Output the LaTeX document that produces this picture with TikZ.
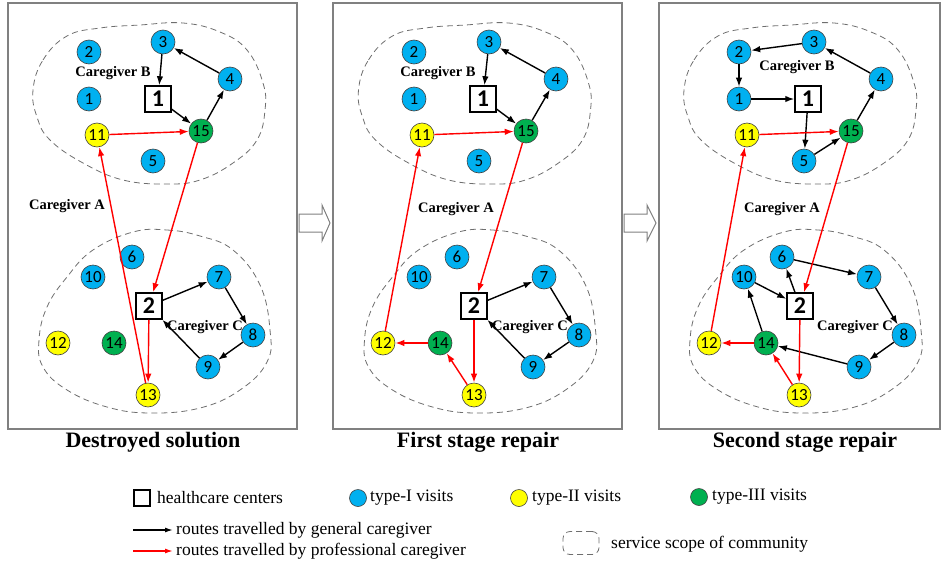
\documentclass[tikz,border=0pt]{standalone}
\usepackage{fontspec}
\setmainfont{Liberation Serif}
\newfontfamily\numfont{Carlito}
\usetikzlibrary{arrows.meta}

\definecolor{visitblue}{RGB}{0,176,240}
\definecolor{visityellow}{RGB}{255,255,0}
\definecolor{visitgreen}{RGB}{0,176,80}
\definecolor{framegray}{RGB}{128,128,128}
\definecolor{routered}{RGB}{255,0,0}
\definecolor{scopegray}{RGB}{110,110,110}

\tikzset{
  visit/.style={circle, draw=black!75, line width=0.6pt, minimum size=24pt, inner sep=0pt,
                font=\numfont\fontsize{17}{17}\selectfont},
  typeI/.style={visit, fill=visitblue},
  typeII/.style={visit, fill=visityellow},
  typeIII/.style={visit, fill=visitgreen},
  hcenter/.style={draw=black, line width=1.5pt, fill=white, minimum size=26pt, inner sep=0pt,
                  font=\numfont\bfseries\fontsize{24}{24}\selectfont},
  general/.style={-{Latex[length=9pt,width=6.5pt]}, line width=1.4pt, black},
  professional/.style={-{Latex[length=9pt,width=6.5pt]}, line width=1.4pt, routered},
  panelframe/.style={draw=framegray, line width=1.5pt},
  community/.style={draw=scopegray, dash pattern=on 6pt off 4pt, line width=0.8pt},
  cglabel/.style={font=\bfseries\fontsize{14.5}{15}\selectfont, inner sep=0pt},
  paneltitle/.style={font=\bfseries\fontsize{22}{24}\selectfont, inner sep=0pt},
  legendtext/.style={font=\fontsize{17.5}{18}\selectfont, anchor=west, inner sep=0pt},
  stagearrow/.style={draw=framegray, line width=1pt, fill=white},
}

% service scopes of the two communities (drawn relative to the first panel)
\newcommand\upperscope{%
  \draw[community] plot[smooth cycle, tension=0.7] coordinates {
    (33,90) (43,60) (67,36) (100,28) (140,25) (183,23) (220,32) (247,50) (263,83)
    (265,110) (257,140) (233,163) (200,180) (167,184) (123,180) (83,163) (50,140) (37,117)};}
\newcommand\lowerscope{%
  \draw[community] plot[smooth cycle, tension=0.7] coordinates {
    (133,232) (167,230) (200,236) (233,250) (260,285) (270,330) (267,362) (240,390)
    (200,408) (150,413) (107,407) (67,390) (43,367) (39,340) (47,307) (67,277) (93,250)};}

\begin{document}
\begin{tikzpicture}[x=1pt, y=-1pt]
\useasboundingbox (0,0) rectangle (942,565);

% panel frames
\draw[panelframe] (8,3) rectangle (297,429);
\draw[panelframe] (333,3) rectangle (622,429);
\draw[panelframe] (659,3) rectangle (940,429);

% stage arrows
\draw[stagearrow] (299,214) -- (322,214) -- (322,205) -- (330,223) -- (322,241) -- (322,232) -- (299,232) -- cycle;
\draw[stagearrow] (624,214) -- (647,214) -- (647,205) -- (656,223) -- (647,241) -- (647,232) -- (624,232) -- cycle;

% community scopes
\upperscope \lowerscope
\begin{scope}[xshift=325.5pt] \upperscope \lowerscope \end{scope}
\begin{scope}[xshift=651pt] \upperscope \lowerscope \end{scope}

% ---------------- Destroyed solution ----------------
\node[typeI]   (p3)  at (163,42)  {3};
\node[typeI]   (p2)  at (89,52)   {2};
\node[typeI]   (p4)  at (230,79)  {4};
\node[typeI]   (p1)  at (89,99)   {1};
\node[hcenter] (pH1) at (158,99)  {1};
\node[typeII]  (p11) at (97,135)  {11};
\node[typeIII] (p15) at (201,131) {15};
\node[typeI]   (p5)  at (153,161) {5};
\node[typeI]   (p6)  at (132,257) {6};
\node[typeI]   (p10) at (93,277)  {10};
\node[typeI]   (p7)  at (219,277) {7};
\node[hcenter] (pH2) at (149,306) {2};
\node[typeI]   (p8)  at (253,335) {8};
\node[typeII]  (p12) at (58,343)  {12};
\node[typeIII] (p14) at (114,343) {14};
\node[typeI]   (p9)  at (208,367) {9};
\node[typeII]  (p13) at (148,395) {13};

\node[cglabel] (pB) at (113,73)  {Caregiver B};
\node[cglabel] (pA) at (67,206)  {Caregiver A};
\node[cglabel] (pC) at (205,327) {Caregiver C};

\draw[general] (pH1) -- (p15);
\draw[general] (p15) -- (p4);
\draw[general] (p4) -- (p3);
\draw[general] (p3) -- (pH1);
\draw[general] (pH2) -- (p7);
\draw[general] (p7) -- (p8);
\draw[general] (p8) -- (p9);
\draw[general] (p9) -- (pH2);
\draw[professional] (p11) -- (p15);
\draw[professional] (p15) -- (pH2);
\draw[professional] (pH2) -- (p13);
\draw[professional] (p13) -- (p11);

\node[paneltitle] (pT) at (153,442) {Destroyed solution};

% ---------------- First stage repair ----------------
\node[typeI]   (q3)  at (489,42)  {3};
\node[typeI]   (q2)  at (414,52)  {2};
\node[typeI]   (q4)  at (556,79)  {4};
\node[typeI]   (q1)  at (414,99)  {1};
\node[hcenter] (qH1) at (483,99)  {1};
\node[typeII]  (q11) at (422,135) {11};
\node[typeIII] (q15) at (526,131) {15};
\node[typeI]   (q5)  at (479,161) {5};
\node[typeI]   (q6)  at (457,257) {6};
\node[typeI]   (q10) at (419,277) {10};
\node[typeI]   (q7)  at (544,277) {7};
\node[hcenter] (qH2) at (474,306) {2};
\node[typeI]   (q8)  at (579,335) {8};
\node[typeII]  (q12) at (383,343) {12};
\node[typeIII] (q14) at (440,343) {14};
\node[typeI]   (q9)  at (533,367) {9};
\node[typeII]  (q13) at (474,395) {13};

\node[cglabel] (qB) at (438,73)  {Caregiver B};
\node[cglabel] (qA) at (456,209) {Caregiver A};
\node[cglabel] (qC) at (530,327) {Caregiver C};

\draw[general] (qH1) -- (q15);
\draw[general] (q15) -- (q4);
\draw[general] (q4) -- (q3);
\draw[general] (q3) -- (qH1);
\draw[general] (qH2) -- (q7);
\draw[general] (q7) -- (q8);
\draw[general] (q8) -- (q9);
\draw[general] (q9) -- (qH2);
\draw[professional] (q11) -- (q15);
\draw[professional] (q15) -- (qH2);
\draw[professional] (qH2) -- (q13);
\draw[professional] (q13) -- (q14);
\draw[professional] (q14) -- (q12);
\draw[professional] (q12) -- (q11);

\node[paneltitle] (qT) at (478,442) {First stage repair};

% ---------------- Second stage repair ----------------
\node[typeI]   (r3)  at (814,42)  {3};
\node[typeI]   (r2)  at (739,52)  {2};
\node[typeI]   (r4)  at (881,79)  {4};
\node[typeI]   (r1)  at (739,99)  {1};
\node[hcenter] (rH1) at (808,99)  {1};
\node[typeII]  (r11) at (747,135) {11};
\node[typeIII] (r15) at (851,131) {15};
\node[typeI]   (r5)  at (804,161) {5};
\node[typeI]   (r6)  at (782,257) {6};
\node[typeI]   (r10) at (744,277) {10};
\node[typeI]   (r7)  at (869,277) {7};
\node[hcenter] (rH2) at (800,306) {2};
\node[typeI]   (r8)  at (904,335) {8};
\node[typeII]  (r12) at (709,343) {12};
\node[typeIII] (r14) at (766,343) {14};
\node[typeI]   (r9)  at (859,367) {9};
\node[typeII]  (r13) at (799,395) {13};

\node[cglabel] (rB) at (797,67)  {Caregiver B};
\node[cglabel] (rA) at (782,209) {Caregiver A};
\node[cglabel] (rC) at (855,327) {Caregiver C};

\draw[general] (r3) -- (r2);
\draw[general] (r2) -- (r1);
\draw[general] (r1) -- (rH1);
\draw[general] (rH1) -- (r5);
\draw[general] (r5) -- (r15);
\draw[general] (r15) -- (r4);
\draw[general] (r4) -- (r3);
\draw[general] (rH2) -- (r6);
\draw[general] (r6) -- (r7);
\draw[general] (r7) -- (r8);
\draw[general] (r8) -- (r9);
\draw[general] (r9) -- (r14);
\draw[general] (r14) -- (r10);
\draw[general] (r10) -- (rH2);
\draw[professional] (r11) -- (r15);
\draw[professional] (r15) -- (rH2);
\draw[professional] (rH2) -- (r13);
\draw[professional] (r13) -- (r14);
\draw[professional] (r14) -- (r12);
\draw[professional] (r12) -- (r11);

\node[paneltitle] (rT) at (805,442) {Second stage repair};

% ---------------- legend ----------------
\node[draw=black, line width=1.5pt, minimum size=16pt, inner sep=0pt] (lgH) at (142,498) {};
\node[legendtext] (lgHt) at (157,498) {healthcare centers};
\node[circle, draw=black!75, line width=0.6pt, fill=visitblue, minimum size=17pt, inner sep=0pt] (lgI) at (358,498) {};
\node[legendtext] (lgIt) at (370,498) {type-I visits};
\node[circle, draw=black!75, line width=0.6pt, fill=visityellow, minimum size=17pt, inner sep=0pt] (lgII) at (519,498) {};
\node[legendtext] (lgIIt) at (532,498) {type-II visits};
\node[circle, draw=black!75, line width=0.6pt, fill=visitgreen, minimum size=17pt, inner sep=0pt] (lgIII) at (699,497) {};
\node[legendtext] (lgIIIt) at (712,497) {type-III visits};

\coordinate (lgGs) at (133,530);
\coordinate (lgGe) at (173,530);
\draw[general, -{Latex[length=8pt,width=5pt]}] (lgGs) -- (lgGe);
\node[legendtext] (lgGt) at (176,530) {routes travelled by general caregiver};
\coordinate (lgPs) at (133,551);
\coordinate (lgPe) at (173,551);
\draw[professional, -{Latex[length=8pt,width=5pt]}] (lgPs) -- (lgPe);
\node[legendtext] (lgPt) at (176,551) {routes travelled by professional caregiver};

\node[community, rounded corners=7pt, minimum width=36pt, minimum height=23pt, inner sep=0pt] (lgS) at (581,543) {};
\node[legendtext] (lgSt) at (611,544) {service scope of community};
\end{tikzpicture}
\end{document}
